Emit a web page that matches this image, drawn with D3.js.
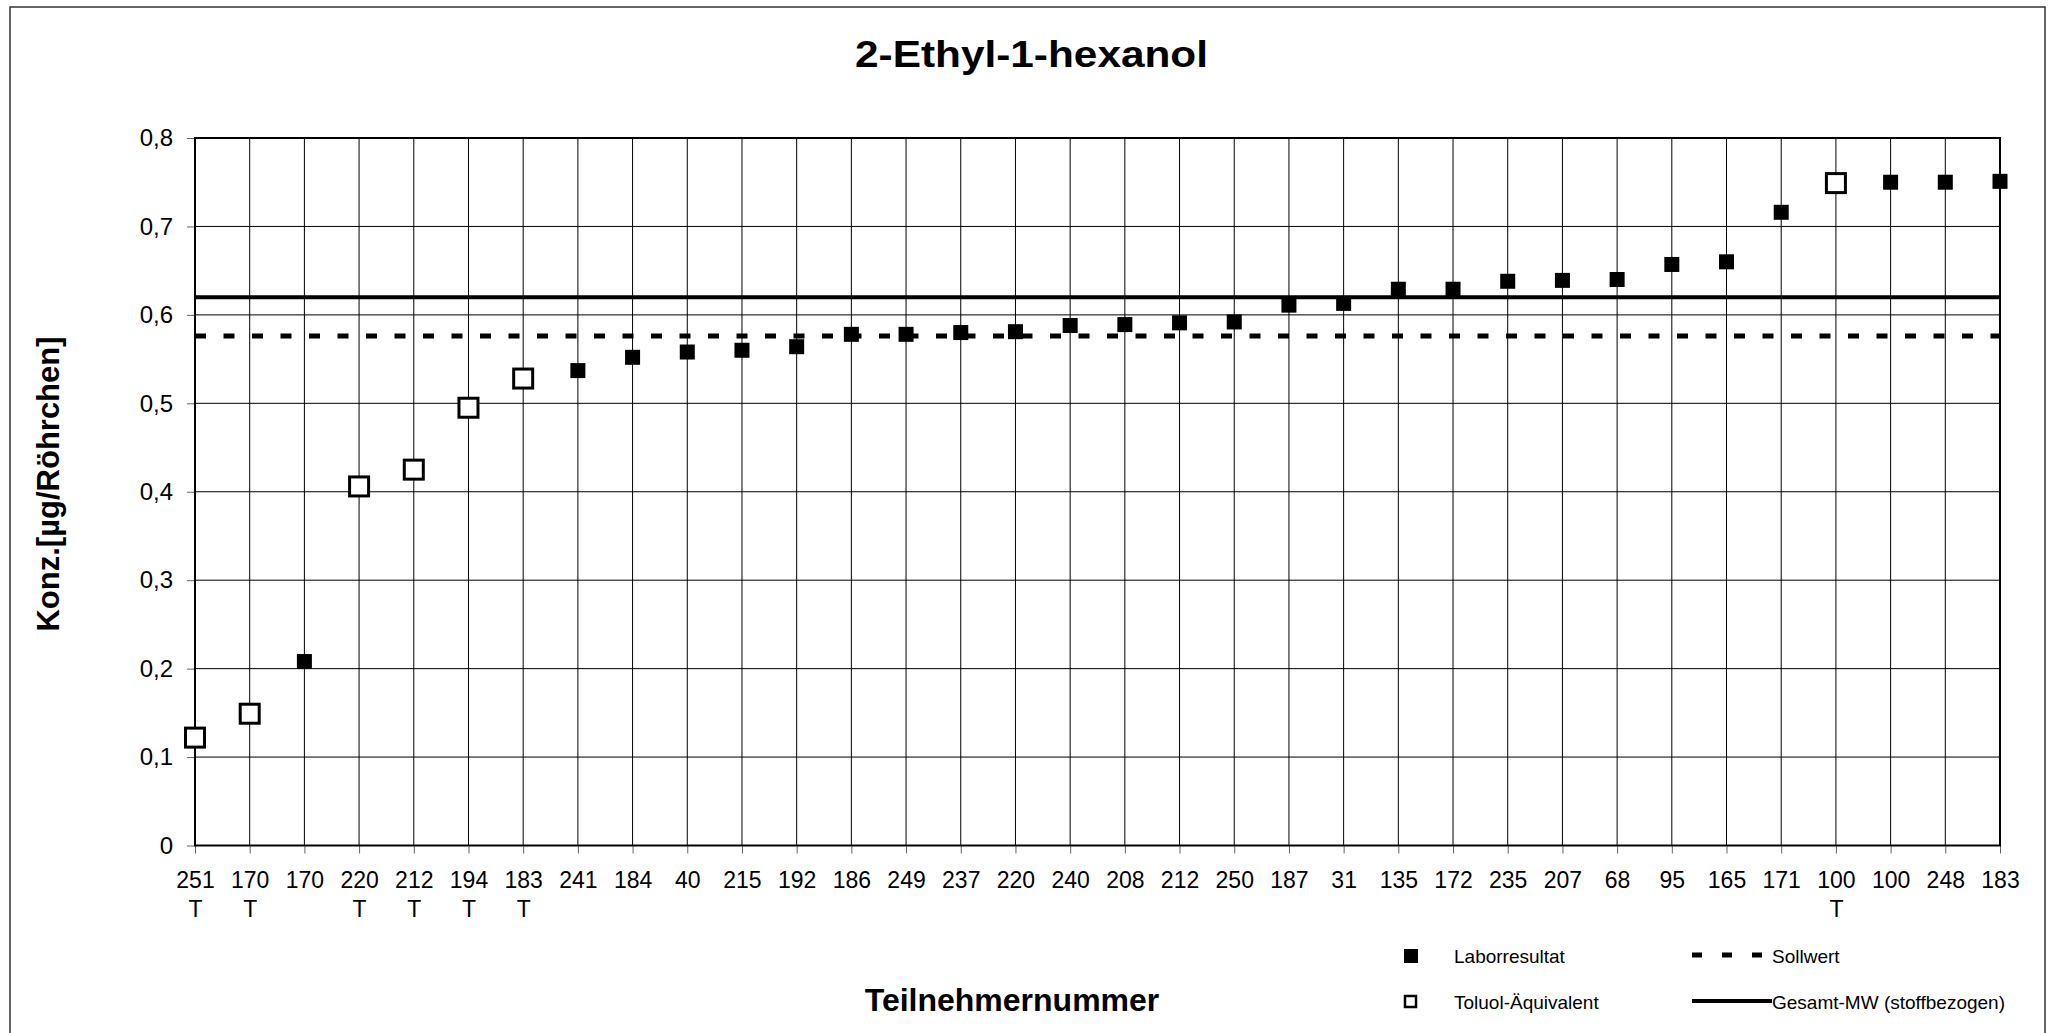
<!DOCTYPE html>
<html lang="de">
<head>
<meta charset="UTF-8">
<title>2-Ethyl-1-hexanol</title>
<script src="https://cdn.jsdelivr.net/npm/d3@7"></script>
<style>
	body { margin: 0; background: #fff; }
	svg { display: block; font-family: "Liberation Sans", Arial, sans-serif; }
</style>
</head>
<body>
<svg id="chart" width="2053" height="1033"></svg>
<script>
	// Teilnehmernummern, Toluol-Kennung und Werte (µg/Röhrchen)
	let teilnehmer = ['251', '170', '170', '220', '212', '194', '183', '241', '184', '40', '215', '192', '186', '249', '237', '220', '240', '208', '212', '250', '187', '31', '135', '172', '235', '207', '68', '95', '165', '171', '100', '100', '248', '183']
	let toluol = [true, true, false, true, true, true, true, false, false, false, false, false, false, false, false, false, false, false, false, false, false, false, false, false, false, false, false, false, false, false, true, false, false, false]
	let werte = [0.122, 0.149, 0.208, 0.406, 0.425, 0.495, 0.528, 0.537, 0.552, 0.558, 0.560, 0.564, 0.578, 0.578, 0.580, 0.581, 0.588, 0.589, 0.591, 0.592, 0.611, 0.613, 0.629, 0.629, 0.638, 0.639, 0.640, 0.657, 0.660, 0.716, 0.749, 0.750, 0.750, 0.751]
	let sollwert = 0.576
	let gesamtMW = 0.62
	let yTicks = [0, 0.1, 0.2, 0.3, 0.4, 0.5, 0.6, 0.7, 0.8]

	let svg = d3.select('#chart')
	let pL = 195, pR = 2000, pT = 138, pB = 845.5

	let x = d3.scalePoint().domain(d3.range(teilnehmer.length)).range([pL, pR])
	let y = d3.scaleLinear().domain([0, 0.8]).range([pB, pT])

	// äußerer Rahmen
	svg.append('rect')
		.attr('x', 10).attr('y', 7)
		.attr('width', 2035).attr('height', 1050)
		.attr('fill', '#fff').attr('stroke', '#333').attr('stroke-width', 1.5)

	// Titel
	svg.append('text')
		.attr('x', 1031.5).attr('y', 67)
		.attr('text-anchor', 'middle')
		.attr('font-size', 36).attr('font-weight', 'bold')
		.attr('textLength', 353).attr('lengthAdjust', 'spacingAndGlyphs')
		.text('2-Ethyl-1-hexanol')

	// Gitter
	let grid = svg.append('g')
	grid.selectAll('line.h').data(yTicks).join('line')
		.attr('x1', pL).attr('x2', pR)
		.attr('y1', d => y(d)).attr('y2', d => y(d))
		.attr('stroke', '#000').attr('stroke-width', 1)
	grid.selectAll('line.v').data(d3.range(teilnehmer.length)).join('line')
		.attr('x1', d => x(d)).attr('x2', d => x(d))
		.attr('y1', pT).attr('y2', pB)
		.attr('stroke', '#000').attr('stroke-width', 1)

	// Achsen
	let yAxis = svg.append('g')
		.attr('transform', `translate(${pL},0)`)
		.call(d3.axisLeft(y).tickValues(yTicks).tickSize(8).tickPadding(14)
			.tickFormat(d => d === 0 ? '0' : d3.format('.1f')(d).replace('.', ',')))
	yAxis.select('.domain').remove()
	yAxis.selectAll('.tick line').attr('stroke', '#666')
	yAxis.selectAll('.tick text').attr('font-size', 24).attr('fill', '#000')
	yAxis.attr('font-family', null).attr('font-size', null)

	let xAxis = svg.append('g')
		.attr('transform', `translate(0,${pB})`)
		.call(d3.axisBottom(x).tickSize(8).tickFormat(i => teilnehmer[i]))
	xAxis.select('.domain').remove()
	xAxis.attr('font-family', null).attr('font-size', null)
	xAxis.selectAll('.tick line').attr('stroke', '#666')
	xAxis.selectAll('.tick text')
		.attr('y', 42.5).attr('dy', null)
		.attr('font-size', 23).attr('fill', '#000')
	xAxis.selectAll('.tick').filter(i => toluol[i])
		.append('text')
		.attr('y', 71.5).attr('fill', '#000')
		.attr('font-size', 23)
		.text('T')

	// Plotrahmen
	svg.append('rect')
		.attr('x', pL).attr('y', pT)
		.attr('width', pR - pL).attr('height', pB - pT)
		.attr('fill', 'none').attr('stroke', '#000').attr('stroke-width', 2)

	// Sollwert und Gesamt-MW
	svg.append('line')
		.attr('x1', pL).attr('x2', pR)
		.attr('y1', y(sollwert)).attr('y2', y(sollwert))
		.attr('stroke', '#000').attr('stroke-width', 5)
		.attr('stroke-dasharray', '11,17.5')
	svg.append('line')
		.attr('x1', pL).attr('x2', pR)
		.attr('y1', y(gesamtMW)).attr('y2', y(gesamtMW))
		.attr('stroke', '#000').attr('stroke-width', 4)

	// Messpunkte
	let punkte = werte.map((v, i) => ({ i, v, t: toluol[i] }))
	svg.append('g').selectAll('rect').data(punkte.filter(d => !d.t)).join('rect')
		.attr('x', d => x(d.i) - 7.5).attr('y', d => y(d.v) - 7.5)
		.attr('width', 15).attr('height', 15)
		.attr('fill', '#000')
	svg.append('g').selectAll('rect').data(punkte.filter(d => d.t)).join('rect')
		.attr('x', d => x(d.i) - 9.5).attr('y', d => y(d.v) - 9.5)
		.attr('width', 19).attr('height', 19)
		.attr('fill', '#fff').attr('stroke', '#000').attr('stroke-width', 3)

	// Achsentitel
	svg.append('text')
		.attr('x', 1012).attr('y', 1011)
		.attr('text-anchor', 'middle')
		.attr('font-size', 32).attr('font-weight', 'bold')
		.text('Teilnehmernummer')
	svg.append('text')
		.attr('transform', 'translate(59,484) rotate(-90)')
		.attr('text-anchor', 'middle')
		.attr('font-size', 31).attr('font-weight', 'bold')
		.text('Konz.[µg/Röhrchen]')

	// Legende
	let legend = svg.append('g').attr('font-size', 19)
	legend.append('rect').attr('x', 1404).attr('y', 949).attr('width', 14).attr('height', 14).attr('fill', '#000')
	legend.append('text').attr('x', 1454).attr('y', 963).text('Laborresultat')
	legend.append('rect').attr('x', 1405).attr('y', 996).attr('width', 11).attr('height', 11)
		.attr('fill', '#fff').attr('stroke', '#000').attr('stroke-width', 2.5)
	legend.append('text').attr('x', 1454).attr('y', 1009).text('Toluol-Äquivalent')
	legend.append('line').attr('x1', 1692).attr('x2', 1770).attr('y1', 955).attr('y2', 955)
		.attr('stroke', '#000').attr('stroke-width', 5).attr('stroke-dasharray', '10,20')
	legend.append('text').attr('x', 1772).attr('y', 963).text('Sollwert')
	legend.append('line').attr('x1', 1692).attr('x2', 1772).attr('y1', 1001).attr('y2', 1001)
		.attr('stroke', '#000').attr('stroke-width', 4)
	legend.append('text').attr('x', 1772).attr('y', 1009).text('Gesamt-MW (stoffbezogen)')
</script>
</body>
</html>
